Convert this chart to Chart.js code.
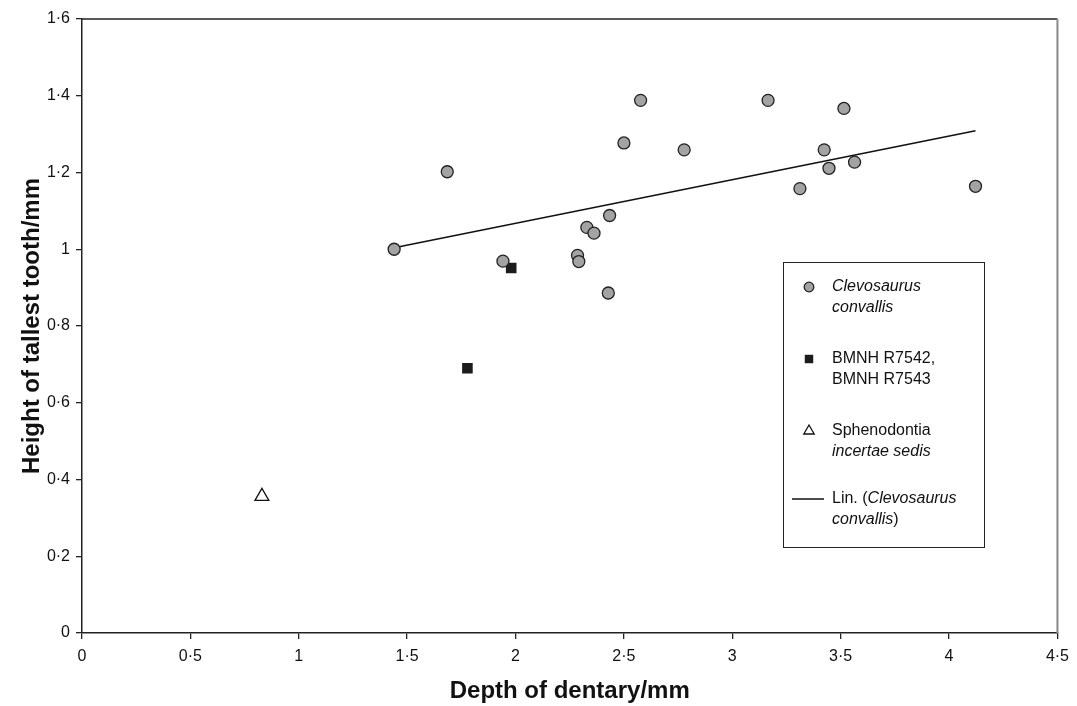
<!DOCTYPE html>
<html>
<head>
<meta charset="utf-8">
<script src="https://cdn.jsdelivr.net/npm/chart.js@4.4.0/dist/chart.umd.min.js"></script>
<style>
    html, body { margin: 0; padding: 0; background: #fff; }
</style>
</head>
<body>
<canvas id="chart" width="1077" height="706"></canvas>
<script>
// Clevosaurus convallis
const clevoX = [1.44, 1.685, 1.942, 2.286, 2.292, 2.329, 2.362, 2.434, 2.428, 2.50, 2.577,
                3.165, 3.515, 2.778, 3.424, 3.564, 3.446, 3.312, 4.122];
const clevoY = [1.00, 1.202, 0.969, 0.984, 0.968, 1.057, 1.042, 1.088, 0.886, 1.277, 1.388,
                1.388, 1.367, 1.259, 1.259, 1.227, 1.211, 1.158, 1.164];

// BMNH R7542, BMNH R7543
const bmnhX = [1.98, 1.778];
const bmnhY = [0.951, 0.690];

// Sphenodontia incertae sedis
const sphenoX = [0.83];
const sphenoY = [0.356];

// Lin. (Clevosaurus convallis) - end points
const trendX = [1.44, 4.122];
const trendY = [1.004, 1.309];

const xTicks = [0, 0.5, 1, 1.5, 2, 2.5, 3, 3.5, 4, 4.5];
const yTicks = [0, 0.2, 0.4, 0.6, 0.8, 1, 1.2, 1.4, 1.6];

const FONT = '"Liberation Sans", Arial, Helvetica, sans-serif';

function toPoints(xs, ys) {
    return xs.map((x, i) => ({x, y: ys[i]}));
}

function fmt(v) {
    return String(v).replace('.', '\u00b7');
}

const datasets = [
    {
        label: 'Clevosaurus convallis',
        data: toPoints(clevoX, clevoY),
        pointStyle: 'circle',
        pointRadius: 6,
        backgroundColor: '#a3a3a3',
        borderColor: '#222',
        borderWidth: 1.3
    },
    {
        label: 'BMNH R7542, BMNH R7543',
        data: toPoints(bmnhX, bmnhY),
        pointStyle: 'rect',
        pointRadius: 7.5,
        backgroundColor: '#1c1c1c',
        borderColor: '#1c1c1c',
        borderWidth: 0
    },
    {
        label: 'Sphenodontia incertae sedis',
        data: toPoints(sphenoX, sphenoY),
        pointStyle: 'triangle',
        pointRadius: 8,
        backgroundColor: '#fff',
        borderColor: '#111',
        borderWidth: 1.3
    },
    {
        label: 'Lin. (Clevosaurus convallis)',
        data: toPoints(trendX, trendY),
        showLine: true,
        pointRadius: 0,
        borderColor: '#111',
        borderWidth: 1.5,
        fill: false
    }
];

// legend rows: each line is a list of [text, italic]
const legendRows = [
    [[['Clevosaurus', true]], [['convallis', true]]],
    [[['BMNH R7542,', false]], [['BMNH R7543', false]]],
    [[['Sphenodontia', false]], [['incertae sedis', true]]],
    [[['Lin. (', false], ['Clevosaurus', true]], [['convallis', true], [')', false]]]
];

const frameAndLegend = {
    id: 'frameAndLegend',
    afterDraw(chart) {
        const {ctx, chartArea: a} = chart;
        ctx.save();
        // top and right frame
        ctx.lineWidth = 1.5;
        ctx.strokeStyle = '#222';
        ctx.beginPath();
        ctx.moveTo(a.left, a.top);
        ctx.lineTo(a.right, a.top);
        ctx.stroke();
        ctx.strokeStyle = '#8a8a8a';
        ctx.lineWidth = 2;
        ctx.beginPath();
        ctx.moveTo(a.right, a.top);
        ctx.lineTo(a.right, a.bottom);
        ctx.stroke();

        // legend box
        const bx = 783, by = 262, bw = 201, bh = 285;
        ctx.fillStyle = '#fff';
        ctx.fillRect(bx, by, bw, bh);
        ctx.strokeStyle = '#222';
        ctx.lineWidth = 1;
        ctx.strokeRect(bx + 0.5, by + 0.5, bw, bh);

        const markX = 809, textX = 832;
        const rowY = [287, 359, 431, 499];
        const lineGap = 21;
        ctx.textBaseline = 'middle';
        legendRows.forEach((row, i) => {
            const ds = chart.data.datasets[i];
            const y = rowY[i];
            if (ds.showLine) {
                ctx.strokeStyle = ds.borderColor;
                ctx.lineWidth = ds.borderWidth;
                ctx.beginPath();
                ctx.moveTo(792, y);
                ctx.lineTo(824, y);
                ctx.stroke();
            } else {
                ctx.fillStyle = ds.backgroundColor;
                ctx.strokeStyle = ds.borderColor;
                ctx.lineWidth = ds.borderWidth;
                Chart.helpers.drawPoint(ctx, {
                    pointStyle: ds.pointStyle,
                    radius: ds.pointRadius * (ds.pointStyle === 'triangle' ? 0.75 : 0.8),
                    borderWidth: ds.borderWidth,
                    rotation: 0
                }, markX, y);
            }
            ctx.fillStyle = '#111';
            row.forEach((line, j) => {
                let x = textX;
                for (const [txt, italic] of line) {
                    ctx.font = (italic ? 'italic ' : '') + '16px ' + FONT;
                    ctx.fillText(txt, x, y + j * lineGap);
                    x += ctx.measureText(txt).width;
                }
            });
        });
        ctx.restore();
    }
};

new Chart(document.getElementById('chart'), {
    type: 'scatter',
    data: {datasets},
    plugins: [frameAndLegend],
    options: {
        responsive: false,
        animation: false,
        layout: {padding: {top: 19, right: 15, left: 0, bottom: 0}},
        plugins: {
            legend: {display: false},
            tooltip: {enabled: false}
        },
        scales: {
            x: {
                type: 'linear',
                min: 0,
                max: 4.5,
                afterBuildTicks: (scale) => { scale.ticks = xTicks.map(v => ({value: v})); },
                afterFit: (scale) => { scale.height = 73; },
                ticks: {
                    callback: fmt,
                    color: '#111',
                    font: {family: FONT, size: 16},
                    padding: 8,
                    maxRotation: 0
                },
                grid: {
                    drawOnChartArea: false,
                    drawTicks: true,
                    tickLength: 6,
                    color: '#222',
                    lineWidth: 1.3
                },
                border: {display: true, color: '#222', width: 1.5},
                title: {
                    display: true,
                    text: 'Depth of dentary/mm',
                    color: '#111',
                    font: {family: FONT, size: 24, weight: 'bold'},
                    padding: {top: 0, bottom: 0}
                }
            },
            y: {
                type: 'linear',
                min: 0,
                max: 1.6,
                afterBuildTicks: (scale) => { scale.ticks = yTicks.map(v => ({value: v})); },
                afterFit: (scale) => { scale.width = 82; },
                ticks: {
                    callback: fmt,
                    color: '#111',
                    font: {family: FONT, size: 16},
                    padding: 6
                },
                grid: {
                    drawOnChartArea: false,
                    drawTicks: true,
                    tickLength: 6,
                    color: '#222',
                    lineWidth: 1.3
                },
                border: {display: true, color: '#222', width: 1.5},
                title: {
                    display: true,
                    text: 'Height of tallest tooth/mm',
                    color: '#111',
                    font: {family: FONT, size: 24, weight: 'bold'},
                    padding: {top: 18, bottom: 0}
                }
            }
        }
    }
});
</script>
</body>
</html>
